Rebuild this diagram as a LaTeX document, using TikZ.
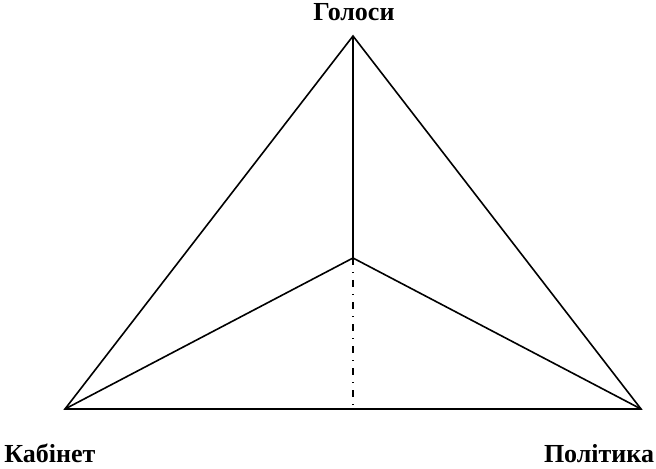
\documentclass[tikz,border=0pt]{standalone}
\usepackage{fontspec}
\setmainfont{Liberation Serif}
\usetikzlibrary{positioning}
\definecolor{ink}{HTML}{000000}
\tikzset{
  edge/.style={ink,line width=0.8pt,line join=miter},
  axis/.style={ink,line width=0.8pt,dash pattern=on 3.5pt off 3.5pt on 0.5pt off 3.5pt},
  lbl/.style={font=\fontsize{13}{15}\selectfont\bfseries,inner sep=0pt,anchor=base},
}
\begin{document}
\begin{tikzpicture}[x=0.5pt,y=-0.5pt]
  \useasboundingbox (0,0) rectangle (656,469);
  % ---------- vertices ----------
  \coordinate (top) at (353,36);
  \coordinate (left) at (65,409);
  \coordinate (right) at (641,409);
  \coordinate (mid) at (353,258);
  \coordinate (foot) at (353,409);
  % ---------- triangle ----------
  \draw[edge] (top) -- (left) -- (right) -- cycle;
  \draw[edge] (top) -- (mid);
  \draw[edge] (left) -- (mid) -- (right);
  \draw[axis] (mid) -- (foot);
  % ---------- labels ----------
  \node[lbl] (votes) at (354,21) {Голоси};
  \node[lbl] (cabinet) at (50,462) {Кабінет};
  \node[lbl] (policy) at (599,462) {Політика};
\end{tikzpicture}
\end{document}
